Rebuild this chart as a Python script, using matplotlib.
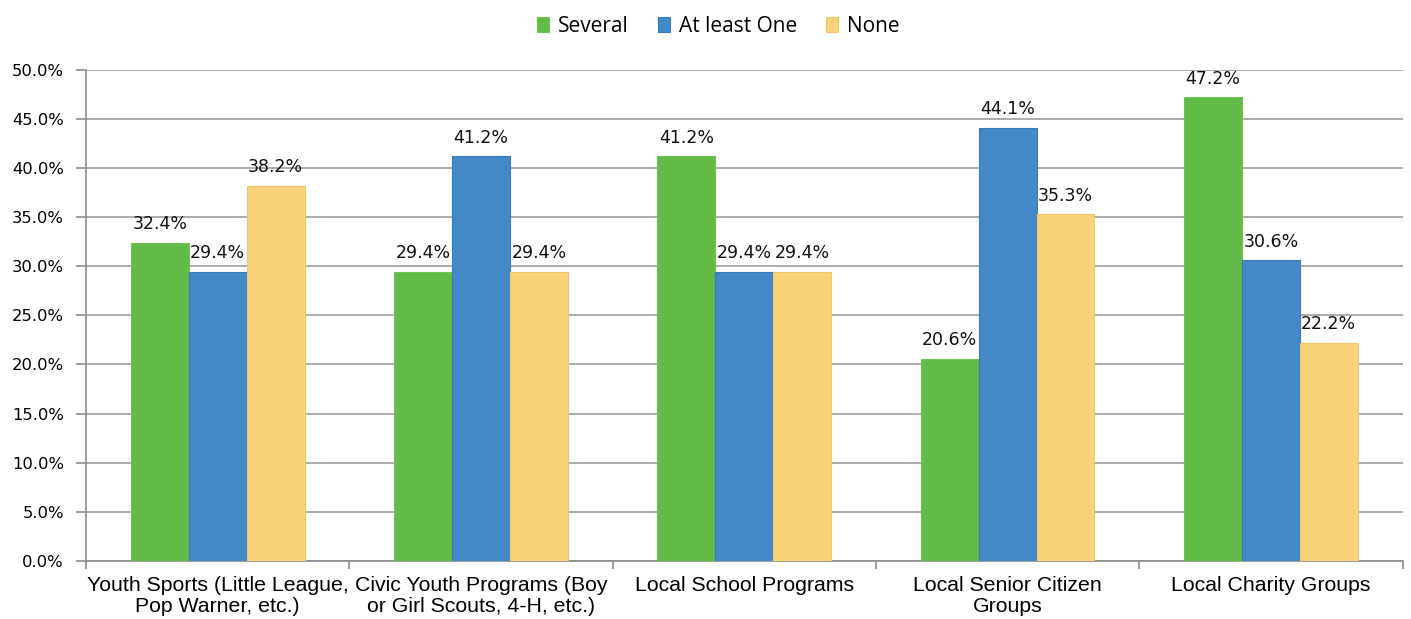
import numpy as np
import matplotlib.pyplot as plt

# --- Survey data ---
categories = ['Youth Sports (Little League,\nPop Warner, etc.)',
              'Civic Youth Programs (Boy\nor Girl Scouts, 4-H, etc.)',
              'Local School Programs',
              'Local Senior Citizen\nGroups',
              'Local Charity Groups']
series_names = ['Several', 'At least One', 'None']
several = [32.4, 29.4, 41.2, 20.6, 47.2]
at_least_one = [29.4, 41.2, 29.4, 44.1, 30.6]
none = [38.2, 29.4, 29.4, 35.3, 22.2]
y_ticks = [0, 5, 10, 15, 20, 25, 30, 35, 40, 45, 50]

colors = ['#62BB46', '#4389C8', '#FAD27A']
edge_colors = ['#72C458', '#3A7AB8', '#F0C66C']

fig = plt.figure(figsize=(14.11, 6.19), dpi=100)
ax = fig.add_axes([0.061, 0.094, 0.933, 0.793])

x = np.arange(len(categories))
width = 0.22
for i, (vals, name) in enumerate(zip([several, at_least_one, none], series_names)):
    pos = x + (i - 1) * width
    ax.bar(pos, vals, width, color=colors[i], edgecolor=edge_colors[i],
           linewidth=0.8, label=name, zorder=3)
    for px, v in zip(pos, vals):
        ax.annotate(f'{v:.1f}%', (px, v), xytext=(0, 7), textcoords='offset points',
                    ha='center', va='bottom', fontsize=12.5, family='DejaVu Sans',
                    color='#111111')

ax.set_xlim(-0.5, len(categories) - 0.5)
ax.set_ylim(0, 50)
ax.set_yticks(y_ticks)
ax.set_yticklabels([f'{t:.1f}%' for t in y_ticks], fontsize=11.8, family='DejaVu Sans')
ax.yaxis.grid(True, color='#A6A6A6', linewidth=1.3, zorder=0)
ax.set_axisbelow(True)

ax.set_xticks(x)
ax.set_xticklabels(categories, fontsize=15.3, family='Liberation Sans', linespacing=1.12)
ax.set_xticks(np.arange(-0.5, len(categories)), minor=True)
ax.tick_params(axis='x', which='major', length=0, pad=11)
ax.tick_params(axis='x', which='minor', length=6, color='#8C8C8C', width=1.2)
ax.tick_params(axis='y', length=7, color='#8C8C8C', width=1.2, pad=9)

for side in ['top', 'right']:
    ax.spines[side].set_visible(False)
for side in ['left', 'bottom']:
    ax.spines[side].set_color('#8C8C8C')
    ax.spines[side].set_linewidth(1.2)

fig.legend(loc='upper center', bbox_to_anchor=(0.509, 1.005), ncol=3, frameon=False,
           prop={'family': 'Open Sans', 'size': 15}, handlelength=0.6,
           handleheight=0.75, handletextpad=0.4, columnspacing=1.4)

fig.savefig('out.png', dpi=100)
